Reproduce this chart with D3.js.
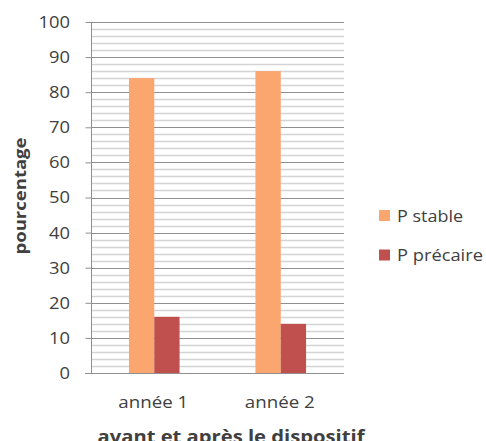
<!DOCTYPE html>
<html>
<head>
<meta charset="utf-8">
<script src="https://cdn.jsdelivr.net/npm/d3@7"></script>
<style>
  body { margin: 0; background: #fff; }
  text { font-family: "Open Sans", "Liberation Sans", sans-serif; fill: #404040; }
</style>
</head>
<body>
<svg id="chart" width="486" height="441"></svg>
<script>
// données
var categories = ["année 1", "année 2"];
var seriesNames = ["P stable", "P précaire"];
var pStable = [84, 86];
var pPrecaire = [16, 14];
var yTicks = [0, 10, 20, 30, 40, 50, 60, 70, 80, 90, 100];
var colors = ["#fba56f", "#c0504d"];

var svg = d3.select("#chart");
var plotLeft = 91, plotRight = 344, plotTop = 22, plotBottom = 373;

var y = d3.scaleLinear().domain([0, 100]).range([plotBottom, plotTop]);
var x0 = d3.scaleBand().domain(categories).range([plotLeft, plotRight]).padding(0);
var x1 = d3.scaleBand().domain(seriesNames).range([0, x0.bandwidth() * 0.4]);

// quadrillage secondaire (tous les 2)
svg.append("g")
  .selectAll("line")
  .data(d3.range(2, 100, 2).filter(function(d){ return d % 10 != 0; }))
  .enter()
  .append("line")
  .attr("x1", plotLeft).attr("x2", plotRight)
  .attr("y1", function(d){ return Math.round(y(d)) + 0.5; })
  .attr("y2", function(d){ return Math.round(y(d)) + 0.5; })
  .attr("stroke", "#d4d4d4")
  .attr("stroke-width", 1.5);

// quadrillage principal
svg.append("g")
  .selectAll("line")
  .data(yTicks.slice(1))
  .enter()
  .append("line")
  .attr("x1", plotLeft).attr("x2", plotRight)
  .attr("y1", function(d){ return Math.round(y(d)) + 0.5; })
  .attr("y2", function(d){ return Math.round(y(d)) + 0.5; })
  .attr("stroke", "#8f8f8f")
  .attr("stroke-width", 1);

// barres
var series = [pStable, pPrecaire];
svg.append("g")
  .selectAll("g")
  .data(seriesNames)
  .enter()
  .append("g")
  .attr("fill", function(d, i){ return colors[i]; })
  .each(function(name, si){
    d3.select(this)
      .selectAll("rect")
      .data(series[si])
      .enter()
      .append("rect")
      .attr("x", function(d, i){ return x0(categories[i]) + x0.bandwidth() * 0.3 + x1(name); })
      .attr("width", x1.bandwidth())
      .attr("y", function(d){ return y(d); })
      .attr("height", function(d){ return y(0) - y(d); });
  });

// axe Y
var yAxis = svg.append("g")
  .attr("transform", "translate(" + (plotLeft + 0.5) + ",0)")
  .call(d3.axisLeft(y).tickValues(yTicks).tickSize(6).tickPadding(14));
yAxis.select(".domain").attr("stroke", "#8f8f8f").attr("d", "M0," + plotTop + "V" + plotBottom);
yAxis.selectAll(".tick line").attr("stroke", "#8f8f8f");
yAxis.selectAll(".tick text")
  .style("font-size", "17px")
  .attr("fill", "#404040")
  .attr("transform", "scale(1.08,1)");

// axe X
svg.append("line")
  .attr("x1", plotLeft - 6).attr("x2", plotRight)
  .attr("y1", plotBottom + 0.5).attr("y2", plotBottom + 0.5)
  .attr("stroke", "#8f8f8f");

svg.append("g")
  .selectAll("text")
  .data(categories)
  .enter()
  .append("text")
  .attr("x", function(d){ return x0(d) + x0.bandwidth() / 2 - 1; })
  .attr("y", 408)
  .attr("text-anchor", "middle")
  .attr("textLength", 70)
  .attr("lengthAdjust", "spacingAndGlyphs")
  .style("font-size", "17px")
  .text(function(d){ return d; });

// titres des axes
svg.append("text")
  .attr("x", 231).attr("y", 443)
  .attr("text-anchor", "middle")
  .attr("textLength", 267)
  .attr("lengthAdjust", "spacingAndGlyphs")
  .style("font-size", "17px")
  .style("font-weight", "bold")
  .attr("fill", "#000")
  .text("avant et après le dispositif");

svg.append("text")
  .attr("transform", "translate(26,196) rotate(-90)")
  .attr("text-anchor", "middle")
  .attr("textLength", 117)
  .attr("lengthAdjust", "spacingAndGlyphs")
  .style("font-size", "16px")
  .style("font-weight", "bold")
  .attr("fill", "#000")
  .text("pourcentage");

// légende
var legend = svg.append("g")
  .selectAll("g")
  .data(seriesNames)
  .enter()
  .append("g")
  .attr("transform", function(d, i){ return "translate(379," + (210 + i * 39.5) + ")"; });
legend.append("rect")
  .attr("width", 11).attr("height", 11)
  .attr("fill", function(d, i){ return colors[i]; });
legend.append("text")
  .attr("x", 18).attr("y", 6)
  .attr("dy", "0.35em")
  .attr("textLength", function(d, i){ return [66, 86][i]; })
  .attr("lengthAdjust", "spacingAndGlyphs")
  .style("font-size", "17px")
  .text(function(d){ return d; });
</script>
</body>
</html>
